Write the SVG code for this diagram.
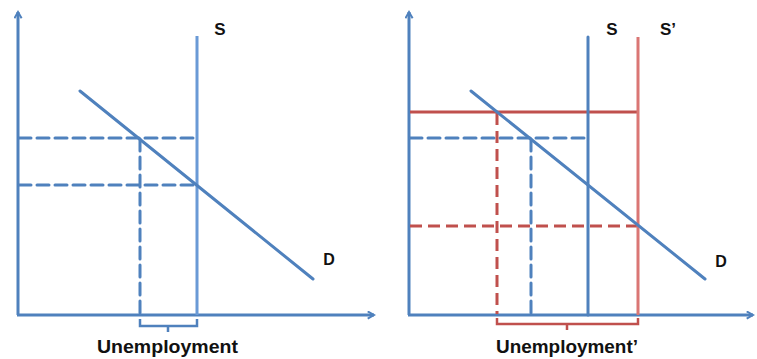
<svg xmlns="http://www.w3.org/2000/svg" width="757" height="359" viewBox="0 0 757 359">
<defs>
<style>
.ax{stroke:#4F81BD;stroke-width:3;fill:none}
.blue{stroke:#4F81BD;stroke-width:3;fill:none;stroke-linecap:round}
.lblue{stroke:#6A9AD6;stroke-width:3;fill:none}
.red{stroke:#C0504D;stroke-width:3;fill:none}
.lred{stroke:#DA7674;stroke-width:3;fill:none}
.dash{stroke-dasharray:12 6}
.br{stroke-width:2.5;fill:none}
.lbl{font-family:"Liberation Sans",Arial,sans-serif;font-weight:bold;fill:#111}
</style>
<marker id="arr" viewBox="0 0 10 10" refX="8" refY="5" markerWidth="3" markerHeight="3" orient="auto" markerUnits="strokeWidth">
<path d="M1,1 L8,5 L1,9" fill="none" stroke="#4F81BD" stroke-width="2.2"/>
</marker>
</defs>

<g id="left-panel">
<g id="left-axes">
<line class="ax" x1="18" y1="315" x2="18" y2="12" marker-end="url(#arr)"/>
<line class="ax" x1="17" y1="315" x2="374" y2="315" marker-end="url(#arr)"/>
</g>
<g id="left-guides">
<line class="blue dash" x1="19" y1="138" x2="197" y2="138"/>
<line class="blue dash" x1="19" y1="185" x2="197" y2="185"/>
<line class="blue dash" x1="140" y1="139" x2="140" y2="314"/>
</g>
<g id="left-S">
<line class="lblue" x1="197" y1="36" x2="197" y2="315"/>
<text class="lbl" x="220" y="35" font-size="17" text-anchor="middle">S</text>
</g>
<g id="left-D">
<line class="blue" x1="80" y1="91" x2="313" y2="279"/>
<text class="lbl" x="329" y="265" font-size="16" text-anchor="middle">D</text>
</g>
<g id="left-unemployment">
<path class="br" stroke="#4F81BD" d="M140,319 V326 H197 V319 M168,326 V332"/>
<text class="lbl" x="97" y="353" font-size="18" textLength="141" lengthAdjust="spacingAndGlyphs">Unemployment</text>
</g>
</g>

<g id="right-panel">
<g id="right-axes">
<line class="ax" x1="409" y1="315" x2="409" y2="12" marker-end="url(#arr)"/>
<line class="ax" x1="408" y1="315" x2="753" y2="315" marker-end="url(#arr)"/>
</g>
<g id="right-guides">
<line class="red" x1="410" y1="112" x2="638" y2="112"/>
<line class="blue dash" x1="410" y1="138" x2="588" y2="138"/>
<line class="red dash" x1="497" y1="113" x2="497" y2="314"/>
<line class="blue dash" x1="531" y1="139" x2="531" y2="314"/>
<line class="red dash" x1="410" y1="226" x2="638" y2="226"/>
</g>
<g id="right-S">
<line class="blue" x1="588" y1="37" x2="588" y2="315"/>
<text class="lbl" x="612" y="35" font-size="17" text-anchor="middle">S</text>
</g>
<g id="right-S-prime">
<line class="lred" x1="638" y1="37" x2="638" y2="315"/>
<text class="lbl" x="668" y="35" font-size="17" text-anchor="middle">S’</text>
</g>
<g id="right-D">
<line class="blue" x1="471" y1="91" x2="705" y2="279"/>
<text class="lbl" x="721" y="267" font-size="16" text-anchor="middle">D</text>
</g>
<g id="right-unemployment">
<path class="br" stroke="#C0504D" d="M497,318 V324 H638 V318 M567,324 V330"/>
<text class="lbl" x="496" y="353" font-size="18" textLength="142" lengthAdjust="spacingAndGlyphs">Unemployment’</text>
</g>
</g>
</svg>
